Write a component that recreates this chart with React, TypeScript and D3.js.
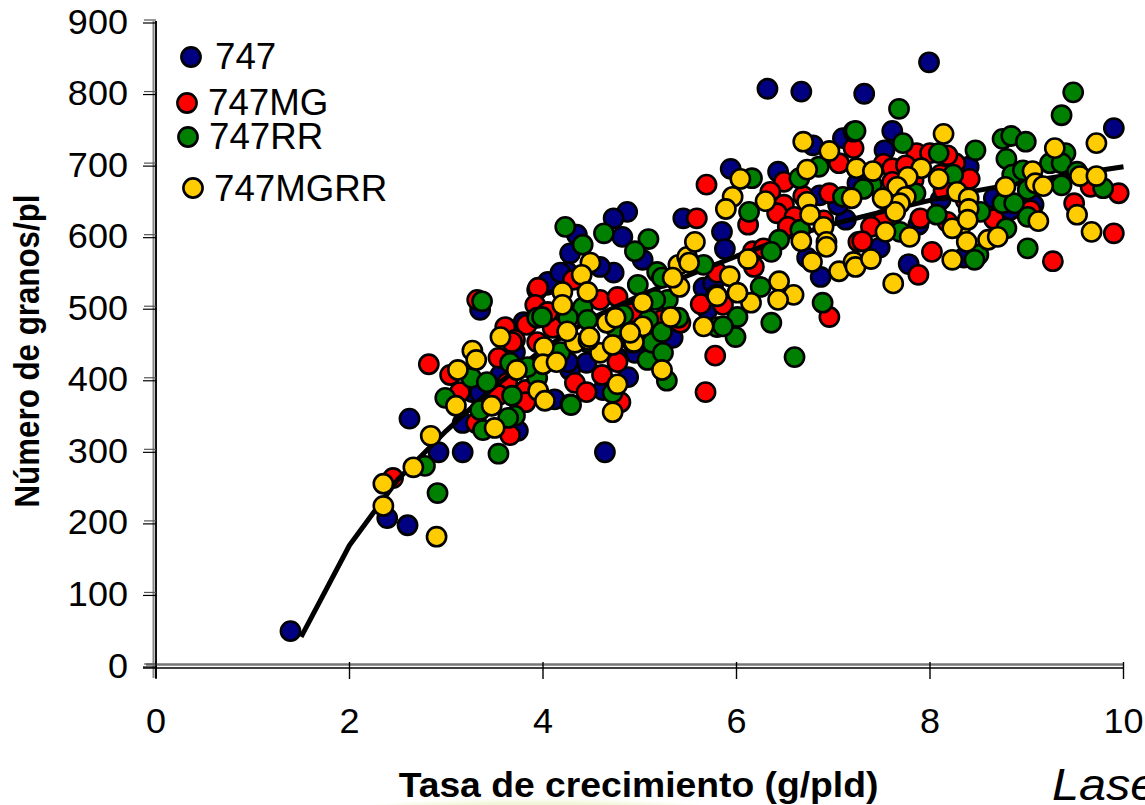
import React from "react";
import * as d3 from "d3";

type P = [number, number];

const xTicks = [0, 2, 4, 6, 8, 10];
const yTicks = [0, 100, 200, 300, 400, 500, 600, 700, 800, 900];

const navy: P[] = [[1.39,48],[2.39,206],[2.6,196],[2.62,345],[2.92,298],[3.17,298],[4.64,298],[3.17,339],[3.27,382],[3.35,381],[3.74,328],[3.71,438],[3.56,406],[3.35,497],[4.04,532],[3.94,525],[3.8,480],[4.12,372],[4.45,423],[4.88,403],[4.62,385],[4.95,437],[4.28,413],[5.34,458],[4.73,549],[4.59,557],[4.28,576],[4.25,550],[4.35,602],[4.82,599],[5.03,567],[4.05,536],[5.66,528],[5.76,534],[5.7,497],[5.94,694],[6.43,690],[6.32,806],[6.67,802],[6.79,727],[7.1,737],[5.45,625],[5.85,606],[5.88,582],[4.87,634],[4.73,625],[6.73,570],[6.87,543],[7.13,623],[7.05,644],[6.86,657],[7.25,674],[7.32,799],[7.99,843],[9.9,751],[7.61,747],[7.53,720],[8.4,697],[7.48,584],[7.78,561],[7.88,616],[8.11,651],[8.66,653],[8.83,637],[9.07,644],[8.35,570],[4.26,424],[4.18,549],[4.77,430],[4.38,539]];

const red: P[] = [[3.95,528],[3.92,504],[3.32,511],[3.83,476],[3.61,473],[4.11,473],[4.04,493],[3.71,455],[2.82,421],[3.54,430],[3.04,406],[3.14,382],[2.45,262],[3.66,322],[3.31,339],[3.82,385],[3.63,395],[3.82,368],[4.33,395],[4.45,382],[4.61,406],[4.77,424],[4.8,368],[3.68,452],[3.94,452],[3.54,378],[4.59,511],[4.77,515],[4.1,472],[5.63,505],[5.78,433],[5.68,382],[4.31,539],[4.05,494],[5.42,479],[4.93,493],[5.23,483],[5.69,672],[5.59,625],[6.12,616],[6.49,676],[6.35,662],[6.69,656],[6.49,644],[6.42,632],[6.6,627],[6.53,613],[6.96,660],[7.06,702],[7.21,723],[6.17,579],[6.28,583],[6.18,557],[5.8,549],[7.26,592],[5.86,504],[6.9,622],[6.96,487],[7.86,716],[7.52,701],[7.61,695],[8.26,702],[8.41,680],[8.18,713],[8,716],[7.83,678],[7.61,676],[8.14,664],[7.9,625],[7.52,623],[7.39,613],[7.3,593],[8.02,578],[7.88,546],[8.66,624],[8.18,620],[9.95,660],[9.9,604],[9.27,565],[9.49,646],[9.66,669],[9.04,636],[7.75,699],[8.11,686],[8.37,650]];

const green: P[] = [[3.37,509],[3.94,486],[2.91,241],[3.54,296],[2.78,279],[2.99,374],[3.26,402],[3.42,396],[3.35,357],[3.68,377],[3.71,349],[3.64,346],[3.38,329],[4.28,365],[3.94,402],[4.72,381],[5.08,427],[5.13,451],[5.24,437],[5.28,398],[3.66,423],[3.84,417],[4.23,613],[4.41,588],[4.63,604],[5.09,596],[4.95,579],[5.18,550],[5.23,542],[5.66,560],[4.98,532],[5.29,511],[5.16,511],[4.41,500],[4.26,486],[4.46,483],[4.83,490],[4.75,472],[5.4,486],[5.09,483],[3.99,487],[5.23,466],[4.18,438],[4.47,451],[4.29,364],[5.8,473],[6.16,681],[6.85,697],[6.65,681],[6.13,634],[6.66,609],[6.44,595],[6.36,578],[6.25,529],[6.36,479],[6.6,431],[6.89,507],[6.01,487],[5.99,459],[5.86,474],[7.21,746],[7.1,655],[7.68,778],[7.23,747],[7.72,730],[8.47,720],[8.09,716],[8.24,686],[7.4,672],[7.31,666],[7.85,660],[7.69,606],[8.07,630],[8.52,634],[8.79,611],[8.5,574],[8.46,567],[9.01,583],[8.75,736],[8.84,740],[8.99,732],[8.79,708],[8.85,686],[9.01,665],[8.75,646],[8.87,646],[9.01,627],[8.96,692],[9.24,702],[9.4,716],[9.36,702],[9.36,671],[9.79,667],[9.52,690],[9.36,769],[9.48,801]];

const yellow: P[] = [[2.35,254],[2.35,223],[2.66,277],[2.84,321],[2.9,180],[3.1,363],[3.12,413],[3.27,440],[3.31,427],[3.47,363],[3.5,332],[3.73,413],[3.56,459],[4.01,445],[4,421],[4.14,424],[3.95,384],[4.02,370],[4.59,437],[4.77,393],[4.72,354],[4.93,451],[5.23,413],[4.33,451],[4.47,455],[4.72,448],[4.25,467],[4.49,563],[4.4,546],[4.2,522],[4.2,504],[4.46,522],[5.4,560],[5.49,571],[5.51,563],[5.57,592],[5.41,529],[5.34,542],[5.03,507],[4.66,479],[4.75,486],[5.32,487],[5.03,474],[4.48,459],[4.94,452],[5.66,474],[5.79,518],[4.9,465],[6.69,732],[6.96,719],[6.04,680],[6.73,693],[5.96,655],[5.89,638],[6.3,649],[6.73,648],[6.76,630],[6.9,613],[6.93,592],[6.93,585],[6.67,593],[7.19,653],[7.24,695],[6.12,568],[6.78,564],[7.06,551],[7.21,564],[7.23,557],[5.93,544],[6.44,537],[6.59,518],[6.43,511],[6.15,507],[6.01,521],[5.8,516],[8.14,743],[7.41,691],[7.91,695],[7.77,683],[8.09,680],[7.66,669],[8.78,669],[8.28,662],[8.4,653],[8.4,638],[7.75,655],[7.69,646],[7.64,634],[7.51,653],[7.54,606],[7.79,599],[8.31,611],[8.23,611],[8.39,623],[8.38,592],[8.6,595],[8.7,599],[8.23,567],[7.39,568],[7.62,534],[9.29,723],[9.72,730],[9.06,691],[9.09,674],[9.17,670],[9.55,684],[9.72,684],[9.52,630],[9.67,606],[9.12,621]];

const trendX = [1.5, 2, 2.5, 3, 3.5, 4, 4.5, 5, 5.5, 6, 6.5, 7, 7.5, 8, 8.5, 9, 9.5, 10];
const trendY = [40, 168, 260, 328, 390, 442, 485, 517, 545, 572, 597, 617, 634, 650, 664, 676, 687, 697];

const seriesColors = { navy: "#000080", red: "#ff0000", green: "#008000", yellow: "#ffcc00" };
const legendItems = [
  { label: "747", color: seriesColors.navy, cx: 191, cy: 57, tx: 215, ty: 69 },
  { label: "747MG", color: seriesColors.red, cx: 187, cy: 103, tx: 208, ty: 115 },
  { label: "747RR", color: seriesColors.green, cx: 188, cy: 137, tx: 209, ty: 149 },
  { label: "747MGRR", color: seriesColors.yellow, cx: 193, cy: 188, tx: 214, ty: 201 },
];

const FONT = "'Liberation Sans', Arial, sans-serif";

export default function App() {
  const x = d3.scaleLinear().domain([0, 10]).range([156, 1123.5]);
  const y = d3.scaleLinear().domain([0, 900]).range([665.5, 21.5]);
  const line = d3.line<number>().x((d) => x(d)).y((_, i) => y(trendY[i]));

  const dots = (data: P[], color: string) =>
    data.map((d, i) => (
      <circle key={i} cx={x(d[0])} cy={y(d[1])} r={9.6} fill={color} stroke="#000" strokeWidth={2.6} />
    ));

  return (
    <svg width={1145} height={805} style={{ position: "absolute", left: 0, top: 0, display: "block", background: "#fff" }} fontFamily={FONT}>
      <defs>
        <radialGradient id="glow">
          <stop offset="0" stopColor="#edf3cc" />
          <stop offset="0.7" stopColor="#f1f6d8" />
          <stop offset="1" stopColor="#ffffff" />
        </radialGradient>
      </defs>
      <ellipse cx={535} cy={815} rx={215} ry={17} fill="url(#glow)" />

      {/* axes, doubled as in the source */}
      <g fill="none">
        <line x1={153.5} x2={153.5} y1={21} y2={678} stroke="#888" strokeWidth={2} />
        <line x1={156} x2={156} y1={21} y2={678} stroke="#111" strokeWidth={2} />
        <line x1={146} x2={1124} y1={664.5} y2={664.5} stroke="#777" strokeWidth={2.5} />
        <line x1={143} x2={1124} y1={668} y2={668} stroke="#000" strokeWidth={1.4} />
        {yTicks.map((t) => (
          <g key={t}>
            <line x1={144} x2={156} y1={y(t) - 1.5} y2={y(t) - 1.5} stroke="#555" strokeWidth={1.2} />
            <line x1={143} x2={156} y1={y(t) + 1.5} y2={y(t) + 1.5} stroke="#000" strokeWidth={1.2} />
          </g>
        ))}
        {xTicks.map((t) => (
          <line key={t} x1={x(t)} x2={x(t)} y1={662} y2={679} stroke="#000" strokeWidth={1.4} />
        ))}
      </g>

      {yTicks.map((t) => (
        <text key={t} transform={`translate(128,${y(t) + 12}) scale(1.03,1)`} textAnchor="end" fontSize={35} fill="#000">{t}</text>
      ))}
      {xTicks.map((t) => (
        <text key={t} transform={`translate(${x(t)},733) scale(1.03,1)`} textAnchor="middle" fontSize={35} fill="#000">{t}</text>
      ))}

      <g>{dots(navy, seriesColors.navy)}</g>
      <g>{dots(red, seriesColors.red)}</g>
      <path d={line(trendX) ?? ""} fill="none" stroke="#000" strokeWidth={5} strokeLinejoin="round" />
      <g>{dots(green, seriesColors.green)}</g>
      <g>{dots(yellow, seriesColors.yellow)}</g>

      {legendItems.map((l) => (
        <g key={l.label}>
          <circle cx={l.cx} cy={l.cy} r={9.6} fill={l.color} stroke="#000" strokeWidth={2.6} />
          <text x={l.tx} y={l.ty} fontSize={36.7} fill="#000">{l.label}</text>
        </g>
      ))}

      <text transform="translate(638.5,797) scale(1.065,1)" textAnchor="middle" fontSize={35} fontWeight="bold" fill="#000">Tasa de crecimiento (g/pld)</text>
      <text transform="translate(39,351) rotate(-90) scale(1,1.15)" textAnchor="middle" fontSize={31.3} fontWeight="bold" fill="#000">Número de granos/pl</text>
      <text transform="translate(1052,800) scale(1.08,1)" fontSize={45} fontStyle="italic" fill="#000">Lase</text>
    </svg>
  );
}
